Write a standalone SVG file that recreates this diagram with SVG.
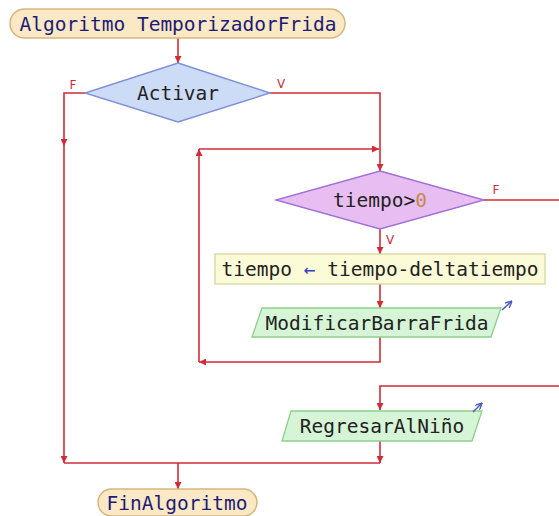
<svg xmlns="http://www.w3.org/2000/svg" width="559" height="516" viewBox="0 0 559 516">
<style>
.t{font-family:"DejaVu Sans Mono","Liberation Mono",monospace;font-size:19.5px;fill:#222;text-anchor:middle;dominant-baseline:central}
.term{fill:#fbe8c4;stroke:#d6b57c;stroke-width:1.5}
.tt{fill:#1c1c78}
.c{fill:none;stroke:#d42a36;stroke-width:1.6}
.lbl{font-family:"DejaVu Sans","Liberation Sans",sans-serif;font-size:12px;fill:#d42a36}
.io{fill:#d6f5d6;stroke:#8ccf8c;stroke-width:1.3}
.out{fill:none;stroke:#4a58c8;stroke-width:1.5}
</style>
<defs>
<marker id="ah" viewBox="0 0 10 10" refX="10" refY="5" markerWidth="7" markerHeight="7" markerUnits="userSpaceOnUse" orient="auto">
<path d="M0,0 L10,5 L0,10 z" fill="#d42a36"/>
</marker>
<marker id="bh" viewBox="0 0 10 10" refX="10" refY="5" markerWidth="7" markerHeight="7" markerUnits="userSpaceOnUse" orient="auto">
<path d="M0,0 L10,5 L0,10" fill="none" stroke="#4a58c8" stroke-width="2"/>
</marker>
</defs>
<rect width="559" height="516" fill="#ffffff"/>
<g id="connectors">
<path class="c" d="M178,38 V63" marker-end="url(#ah)"/>
<path class="c" d="M85,93 H64 V146" marker-end="url(#ah)"/>
<path class="c" d="M64,146 V463" marker-end="url(#ah)"/>
<path class="c" d="M270,93 H380 V171" marker-end="url(#ah)"/>
<path class="c" d="M380,337 V362 H199" marker-end="url(#ah)"/>
<path class="c" d="M199,362 V149" marker-end="url(#ah)"/>
<path class="c" d="M199,149 H379" marker-end="url(#ah)"/>
<path class="c" d="M380,229 V254" marker-end="url(#ah)"/>
<path class="c" d="M380,284 V308" marker-end="url(#ah)"/>
<path class="c" d="M484,200 H575 V386 H380 V410" marker-end="url(#ah)"/>
<path class="c" d="M380,441 V463" marker-end="url(#ah)"/>
<path class="c" d="M64,463 H380"/>
<path class="c" d="M178,463 V489" marker-end="url(#ah)"/>
<text class="lbl" x="73" y="89" text-anchor="middle">F</text>
<text class="lbl" x="281" y="88" text-anchor="middle">V</text>
<text class="lbl" x="496" y="194" text-anchor="middle">F</text>
<text class="lbl" x="390" y="244" text-anchor="middle">V</text>
</g>
<g id="start">
<rect class="term" x="10" y="9" width="335" height="29" rx="14.5"/>
<text class="t tt" x="178" y="24">Algoritmo TemporizadorFrida</text>
</g>
<g id="activar">
<polygon points="178,63 270,93 178,122 85,93" fill="#cddcf6" stroke="#7f8fd8" stroke-width="1.4"/>
<text class="t" x="178" y="93">Activar</text>
</g>
<g id="cond">
<polygon points="380,171 484,200 380,229 276,200" fill="#e8bef2" stroke="#a070d6" stroke-width="1.4"/>
<text class="t" x="380" y="200">tiempo&gt;<tspan fill="#c48a4a">0</tspan></text>
</g>
<g id="assign">
<rect x="215" y="254" width="330" height="30" fill="#fbfbd8" stroke="#d6d6a0" stroke-width="1.3"/>
<text class="t" x="380" y="269">tiempo <tspan fill="#3040c8">←</tspan> tiempo-deltatiempo</text>
</g>
<g id="modificar">
<polygon class="io" points="262,308 501,308 491,337 252,337"/>
<text class="t" x="377" y="323">ModificarBarraFrida</text>
<path class="out" d="M502,310 L512,301" marker-end="url(#bh)"/>
</g>
<g id="regresar">
<polygon class="io" points="291,411 482,411 472,441 282,441"/>
<text class="t" x="382" y="426">RegresarAlNiño</text>
<path class="out" d="M473,412 L482,403" marker-end="url(#bh)"/>
</g>
<g id="end">
<rect class="term" x="98" y="489" width="159" height="27" rx="13.5"/>
<text class="t tt" x="177" y="503">FinAlgoritmo</text>
</g>
</svg>
